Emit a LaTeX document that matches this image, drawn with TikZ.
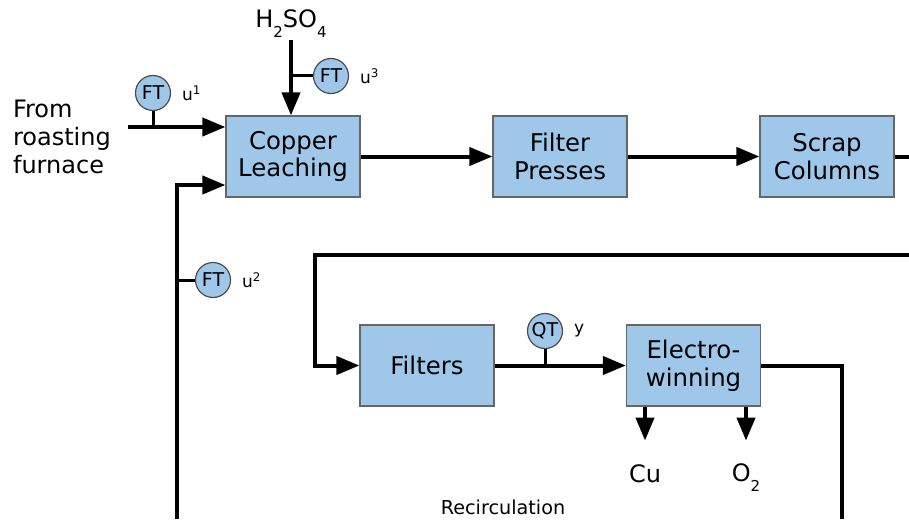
\documentclass[tikz,border=0pt]{standalone}
\usepackage{fontspec}
\setmainfont{DejaVu Sans}
\usetikzlibrary{arrows.meta}
\definecolor{unitblue}{RGB}{159,199,233}
\newcommand{\lowsub}[1]{\raisebox{-5pt}{\fontsize{7.5}{8}\selectfont #1}}
\begin{document}
\begin{tikzpicture}[x=0.5pt, y=-0.5pt, >={Triangle[length=11.5pt,width=9pt]},
  unit/.style={draw=black!60, fill=unitblue, line width=0.6pt, minimum width=67pt, minimum height=40.5pt, align=center, font=\fontsize{12.2}{13.8}\selectfont},
  sensor/.style={circle, draw=black!70, fill=unitblue, line width=0.6pt, minimum size=17.5pt, inner sep=0pt, font=\fontsize{9.5}{10}\selectfont},
  flow/.style={line width=2pt},
  stem/.style={line width=1.5pt},
  tag/.style={font=\fontsize{8.5}{10}\selectfont},
  big/.style={font=\fontsize{12}{14.2}\selectfont}]
\useasboundingbox (0,0) rectangle (909,519);
% process units
\node[unit] (leach) at (293,156.5) {Copper\\Leaching};
\node[unit] (press) at (560,156.5) {Filter\\Presses};
\node[unit] (scrap) at (827,156.5) {Scrap\\Columns};
\node[unit] (filt) at (427,365.5) {Filters};
\node[unit] (ew) at (693.5,365.5) {Electro-\\winning};
% inputs and outputs
\node[big, align=left, anchor=west] (src) at (6,137) {From\\roasting\\furnace};
\node[big, inner sep=1pt] (acid) at (291,24) {H\lowsub{2}SO\lowsub{4}};
\node[big] (cu) at (645,474) {Cu};
\node[big] (o2) at (746,478) {O\lowsub{2}};
\node[font=\fontsize{9.6}{11}\selectfont] (recl) at (503,507) {Recirculation};
\coordinate (feed) at (128,127);
\coordinate (outR) at (909,156.5);
\coordinate (loopR) at (909,255);
\coordinate (recL) at (177,519);
\coordinate (recR) at (842,519);
% main flow
\draw[flow,->] (feed) -- (leach.west |- feed);
\draw[flow,->] (acid.south) -- (acid.south |- leach.north);
\draw[flow,->] (recL) |- ([yshift=-14.25pt]leach.west);
\draw[flow,->] (leach) -- (press);
\draw[flow,->] (press) -- (scrap);
\draw[flow] (scrap) -- (outR);
\draw[flow,->] (loopR) -| ([xshift=-22pt]filt.west) -- (filt.west);
\draw[flow,->] (filt) -- (ew);
\draw[flow] (ew.east) -| (recR);
\draw[flow,->] (ew.south -| cu) -- ++(0,34);
\draw[flow,->] (ew.south -| o2) -- ++(0,34);
% transmitters
\node[sensor] (ftA) at (153,93) {FT};
\node[sensor] (ftB) at (213,280) {FT};
\node[sensor] (ftC) at (331,76) {FT};
\node[sensor] (qt) at (545,331) {QT};
\draw[stem] (ftA) -- (ftA |- feed);
\draw[stem] (ftB.west) -- (ftB.west -| recL);
\draw[stem] (ftC.west) -- (ftC.west -| acid.south);
\draw[stem] (qt) -- (qt |- filt);
\node[tag, anchor=west, xshift=2pt] (uA) at (ftA.east) {u\textsuperscript{1}};
\node[tag, anchor=west, xshift=2pt] (uB) at (ftB.east) {u\textsuperscript{2}};
\node[tag, anchor=west, xshift=2pt] (uC) at (ftC.east) {u\textsuperscript{3}};
\node[tag, anchor=west, xshift=2pt] (yq) at (qt.east) {y};
\end{tikzpicture}
\end{document}
